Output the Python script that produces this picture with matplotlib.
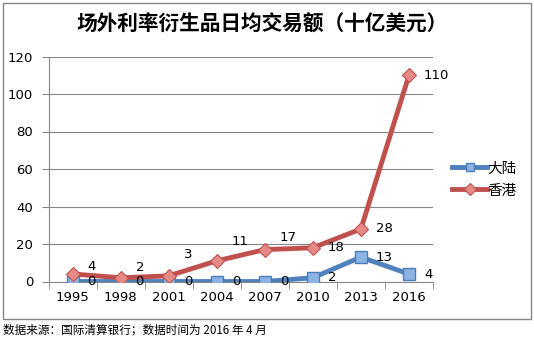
import matplotlib
matplotlib.use("Agg")
import matplotlib.pyplot as plt
from matplotlib.patches import Rectangle

plt.rcParams['font.family'] = ['Noto Sans CJK SC', 'DejaVu Sans']

years = ["1995", "1998", "2001", "2004", "2007", "2010", "2013", "2016"]
mainland = [0, 0, 0, 0, 0, 2, 13, 4]
hongkong = [4, 2, 3, 11, 17, 18, 28, 110]
# label lift (pixels) for the hong kong labels, as placed in the source chart
hk_lift = [8, 10, 21, 19, 12, 0, 0, 0]

W, H = 534, 340
fig = plt.figure(figsize=(W / 100, H / 100), dpi=100)
ax = fig.add_axes([48.5 / W, 1 - 281.5 / H, (433 - 48.5) / W, 225 / H])

x = list(range(len(years)))
ax.plot(x, mainland, color="#4F81BD", lw=3.5, marker="s", ms=8.5,
        mfc="#8DB3E2", mec="#4A7EBB", mew=1, label="大陆", zorder=3)
ax.plot(x, hongkong, color="#C0504D", lw=3.5, marker="D", ms=7.5,
        mfc="#E58A86", mec="#C0504D", mew=0.8, label="香港", zorder=4)

for i, v in enumerate(mainland):
    ax.annotate(str(v), (i, v), xytext=(15, 0), textcoords="offset pixels",
                ha="left", va="center", fontsize=9.5, family="DejaVu Sans", zorder=5)
for i, v in enumerate(hongkong):
    ax.annotate(str(v), (i, v), xytext=(15, hk_lift[i]), textcoords="offset pixels",
                ha="left", va="center", fontsize=9.5, family="DejaVu Sans", zorder=5)

ax.set_xlim(-0.5, len(years) - 0.5)
ax.set_ylim(0, 120)
ax.set_yticks(range(0, 121, 20))
ax.set_xticks(x)
ax.set_xticklabels(years)
ax.set_xticks([i - 0.5 for i in range(len(years) + 1)], minor=True)
ax.tick_params(axis="x", which="major", length=0, pad=7, labelsize=9.5)
ax.tick_params(axis="x", which="minor", length=5, color="#868686")
ax.tick_params(axis="y", length=5, color="#868686", labelsize=9.5, pad=6)
for lab in ax.get_xticklabels() + ax.get_yticklabels():
    lab.set_family("DejaVu Sans")
ax.grid(axis="y", color="#868686", lw=0.8)
ax.set_axisbelow(True)
for s in ["top", "right"]:
    ax.spines[s].set_visible(False)
ax.spines["left"].set_color("#868686")
ax.spines["bottom"].set_color("#868686")

fig.legend(loc="center left", bbox_to_anchor=(452 / W, 1 - 179.5 / H),
           frameon=False, fontsize=10.5, handlelength=2.4, labelspacing=0.55,
           handletextpad=0.05, borderpad=0, borderaxespad=0, markerscale=0.75)

fig.patches.append(Rectangle((3 / W, 1 - 319 / H), 528 / W, 316 / H,
                             transform=fig.transFigure, fill=False,
                             edgecolor="#868686", lw=1))
fig.text(262 / W, 1 - 24 / H, "场外利率衍生品日均交易额（十亿美元）",
         ha="center", va="center", fontsize=14.9, fontweight="bold")
fig.text(3 / W, 1 - 330 / H, "数据来源：国际清算银行；数据时间为 2016 年 4 月",
         ha="left", va="center", fontsize=8.4)

fig.savefig("out.png", dpi=100)
